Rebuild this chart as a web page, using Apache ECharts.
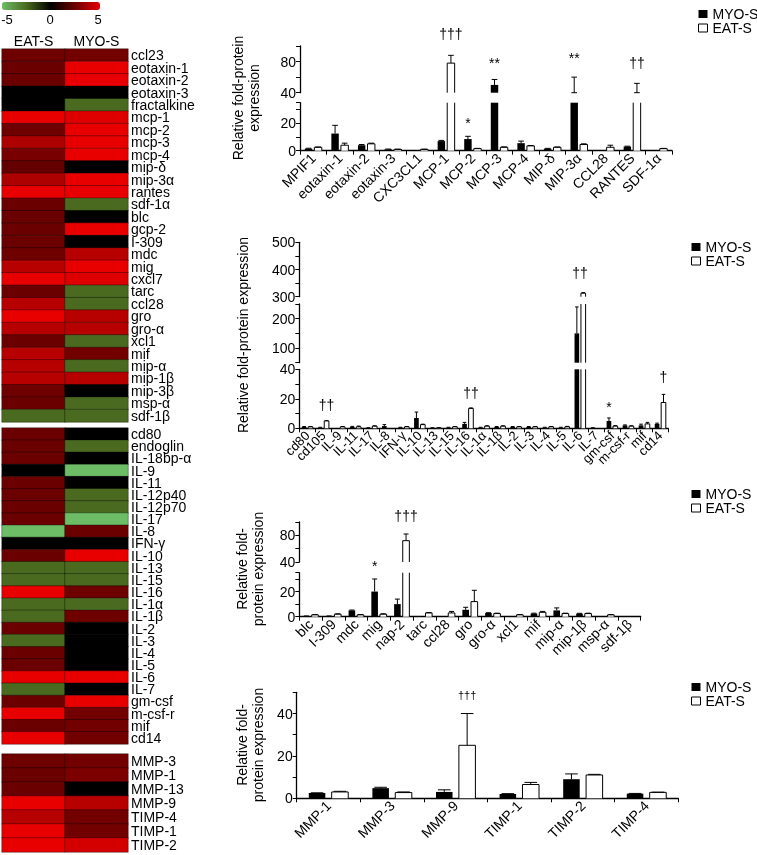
<!DOCTYPE html>
<html>
<head>
<meta charset="utf-8">
<script src="https://cdn.jsdelivr.net/npm/echarts@6/dist/echarts.min.js"></script>
<style>html,body{margin:0;padding:0;background:#fff}#c{width:757px;height:855px;will-change:transform;transform:translateZ(0)}</style>
</head>
<body>
<div id="c"></div>
<script>
// ---------------- DATA ----------------
const heatCols = ['EAT-S', 'MYO-S'];
const rows1 = ['ccl23','eotaxin-1','eotaxin-2','eotaxin-3','fractalkine','mcp-1','mcp-2','mcp-3','mcp-4','mip-δ','mip-3α','rantes','sdf-1α','blc','gcp-2','I-309','mdc','mig','cxcl7','tarc','ccl28','gro','gro-α','xcl1','mif','mip-α','mip-1β','mip-3β','msp-α','sdf-1β'];
const eat1 = [2.5,2.4,2.4,0,0,5,2.5,3.8,2.7,2.3,3.8,5,2.4,2.4,2.4,2.4,2.5,4,5,2.4,4,5,4,2.4,4,4,4,2.5,2.4,-2.5];
const myo1 = [2.6,5,5,0,-2.5,4.8,5,5,5,0,5,5,-2.5,0,5,0,4,5,4.8,-2.5,-2.5,4,4,-2.5,2.6,-2.5,4,0,-2.5,-2.5];
const rows2 = ['cd80','endoglin','IL-18bp-α','IL-9','IL-11','IL-12p40','IL-12p70','IL-17','IL-8','IFN-γ','IL-10','IL-13','IL-15','IL-16','IL-1α','IL-1β','IL-2','IL-3','IL-4','IL-5','IL-6','IL-7','gm-csf','m-csf-r','mif','cd14'];
const eat2 = [2.4,2.4,2.4,0,2.4,2.4,2.4,2.4,-5,0,2.4,-2.5,-2.5,5,-2.5,-2.5,2.4,-2.5,2.4,2.4,5,-2.5,2.4,5,2.4,5];
const myo2 = [0,-2.5,0,-5,0,-2.5,-2.5,-5,2.4,0,5,-2.5,-2.5,2.5,-2.5,2.5,0,0,0,0,5,0,5,2.6,2.6,2.6];
const rows3 = ['MMP-3','MMP-1','MMP-13','MMP-9','TIMP-4','TIMP-1','TIMP-2'];
const eat3 = [2.5,2.4,2.4,5,4,5,5];
const myo3 = [2.6,2.8,0,4,2.6,2.6,4.6];
const colorbarTicks = ['-5', '0', '5'];

const p1Cats = ['MPIF1','eotaxin-1','eotaxin-2','eotaxin-3','CXC3CL1','MCP-1','MCP-2','MCP-3','MCP-4','MIP-δ','MIP-3α','CCL28','RANTES','SDF-1α'];
const p1Myo    = [1.5, 12.5, 4,   1,   0,   7,   8.5,  50, 5.5, 1.5, 40, 0,   3,   0];
const p1MyoErr = [1.8, 18.5, 4.5, 1.2, 0,   7.5, 10.5, 57, 7,   1.7, 60, 0,   3.3, 0];
const p1Eat    = [2.5, 4,    5,   1,   1,   78,  1.5,  2.5, 3.5, 2.5, 4.5, 2.5, 40,  1.5];
const p1EatErr = [2.7, 5.5,  5.5, 1.1, 1.1, 88,  1.7,  2.8, 3.8, 2.7, 5,   4,   52,  1.7];
const p1AnnoCats = [5, 6, 7, 10, 12];
const p1AnnoVals = [115, 20.2, 77.8, 84.2, 78];
const p1AnnoSide = [1, -1, -1, -1, 1];
const p1AnnoSeg  = [1, 0, 1, 1, 1];
const p1AnnoText = ['†††', '*', '**', '**', '††'];

const p2Cats = ['cd80','cd105','IL-9','IL-11','IL-17','IL-8','IFN-γ','IL-10','IL-13','IL-15','IL-16','IL-1α','IL-1β','IL-2','IL-3','IL-4','IL-5','IL-6','IL-7','gm-csf','m-csf-r','mif','cd14'];
const p2Myo    = [1,   0.5, 0,   1,   0.3, 1.5, 0.5, 7,   0.3, 0.5, 3,    0.5, 1,   1,   1,   0.5, 0.5, 150, 0.3, 5,   2,   2,   3];
const p2MyoErr = [1.2, 0.7, 0,   1.3, 0.4, 2.5, 0.7, 11,  0.4, 0.7, 4,    0.7, 1.2, 1.2, 1.2, 0.7, 0.7, 240, 0.4, 7,   2.3, 2.8, 3.5];
const p2Eat    = [1,   5,   1,   1,   1.5, 0,   1,   2.5, 0.3, 1,   13.5, 1.5, 1.5, 1,   1,   1,   1,   313, 0,   1.5, 1.5, 3,   17.5];
const p2EatErr = [1.2, 5.3, 1.2, 1.5, 1.7, 0,   1.2, 2.8, 0.4, 1.2, 13.8, 1.7, 1.7, 1.2, 1.2, 1.2, 1.3, 315, 0,   1.8, 1.7, 4,   23];
const p2AnnoCats = [1, 10, 17, 19, 22];
const p2AnnoVals = [15.8, 23.7, 388, 14.4, 35];
const p2AnnoSide = [1, 1, 0, -1, 1];
const p2AnnoSeg  = [0, 0, 2, 0, 0];
const p2AnnoText = ['††', '††', '††', '*', '†'];

const p3Cats = ['blc','I-309','mdc','mig','nap-2','tarc','ccl28','gro','gro-α','xcl1','mif','mip-α','mip-1β','msp-α','sdf-1β'];
const p3Myo    = [0.5, 0.5, 5,   20,  10, 0,   0,   5.5, 3,   0,   2.5, 5,   2.5, 0,   0];
const p3MyoErr = [0.6, 0.6, 5.3, 30,  14, 0,   0,   7.5, 3.2, 0,   2.8, 7,   2.7, 0,   0];
const p3Eat    = [1.5, 2,   1.5, 2,   72, 3,   3,   12,  2.5, 1.5, 3.5, 2.5, 2.5, 1.5, 0];
const p3EatErr = [1.7, 2.3, 1.7, 2.3, 82, 3.3, 4.2, 21,  2.8, 1.7, 4.2, 2.8, 2.8, 1.7, 0];
const p3AnnoCats = [3, 4];
const p3AnnoVals = [40, 109.4];
const p3AnnoSide = [-1, 1];
const p3AnnoSeg  = [0, 1];
const p3AnnoText = ['*', '†††'];

const p4Cats = ['MMP-1','MMP-3','MMP-9','TIMP-1','TIMP-2','TIMP-4'];
const p4Myo    = [2.5, 4.8, 3,  2,   9,    2.2];
const p4MyoErr = [2.6, 5.2, 4,  2.2, 11.5, 2.3];
const p4Eat    = [3,   2.7, 25, 6.5, 11,   2.8];
const p4EatErr = [3.3, 3,   40, 7.5, 11.3, 2.9];
const p4AnnoCats = [2];
const p4AnnoVals = [48.7];
const p4AnnoSide = [1];
const p4AnnoSeg  = [0];
const p4AnnoText = ['†††'];

const seriesNames = ['MYO-S', 'EAT-S'];
const axisTitle1 = 'Relative fold-protein\nexpression';
const axisTitle2 = 'Relative fold-protein expression';
const axisTitle3 = 'Relative fold-\nprotein expression';
const axisTitle4 = 'Relative fold-\nprotein expression';

// ---------------- CHART ----------------
const FONT = "'Liberation Sans', Arial, Helvetica, sans-serif";
const chart = echarts.init(document.getElementById('c'), null, {renderer: 'svg', width: 757, height: 855});

const grids = [], xAxes = [], yAxes = [], series = [], legends = [], graphics = [];

const heatSections = [
  {rows: rows1, eat: eat1, myo: myo1, top: 49, height: 373, header: true, font: 14},
  {rows: rows2, eat: eat2, myo: myo2, top: 428, height: 316, font: 14},
  {rows: rows3, eat: eat3, myo: myo3, top: 754, height: 98, font: 14}
];
heatSections.forEach(s => {
  const gi = grids.length;
  grids.push({left: 2, top: s.top, width: 126, height: s.height, containLabel: false, outerBoundsMode: 'none'});
  xAxes.push({type: 'category', gridIndex: gi, data: heatCols, position: 'top', show: !!s.header,
    axisLine: {show: false}, axisTick: {show: false}, splitLine: {show: false},
    axisLabel: {show: !!s.header, fontSize: 14, color: '#000', margin: 1, interval: 0, fontFamily: FONT}});
  yAxes.push({type: 'category', gridIndex: gi, data: s.rows, inverse: true, position: 'right',
    axisLine: {show: false}, axisTick: {show: false}, splitLine: {show: false},
    axisLabel: {fontSize: s.font, color: '#000', margin: 3, interval: 0, fontFamily: FONT, lineHeight: 12}});
  const data = [];
  s.rows.forEach((r, i) => { data.push([0, i, s.eat[i]]); data.push([1, i, s.myo[i]]); });
  series.push({type: 'heatmap', xAxisIndex: gi, yAxisIndex: gi, data: data, silent: true,
    itemStyle: {borderColor: 'rgba(0,0,0,0.35)', borderWidth: 1}, emphasis: {disabled: true}});
});

const panels = [
  {cats: p1Cats, myo: p1Myo, myoErr: p1MyoErr, eat: p1Eat, eatErr: p1EatErr,
   left: 300, width: 372, barW: 0.28, off: 0.18, xFont: 14, annoFont: 14,
   segs: [{min: 0, max: 35, top: 102.7, height: 48, interval: 10, labelMod: 20},
          {min: 40, max: 100, top: 46, height: 46.7, interval: 20, labelMod: 40}],
   anno: {cats: p1AnnoCats, vals: p1AnnoVals, side: p1AnnoSide, seg: p1AnnoSeg, texts: p1AnnoText},
   legend: {left: 698, top: 7, gap: 0},
   title: {text: axisTitle1, x: 246, y: 98}},
  {cats: p2Cats, myo: p2Myo, myoErr: p2MyoErr, eat: p2Eat, eatErr: p2EatErr,
   left: 299.3, width: 369, barW: 0.29, off: 0.2, xFont: 13, annoFont: 14,
   segs: [{min: 0, max: 40, top: 369.3, height: 59, interval: 10, labelMod: 20},
          {min: 50, max: 250, top: 304, height: 58.7, interval: 50, labelMod: 100},
          {min: 300, max: 500, top: 242.3, height: 54.4, interval: 50, labelMod: 100}],
   anno: {cats: p2AnnoCats, vals: p2AnnoVals, side: p2AnnoSide, seg: p2AnnoSeg, texts: p2AnnoText},
   legend: {left: 691, top: 240, gap: 0},
   title: {text: axisTitle2, x: 243, y: 335}},
  {cats: p3Cats, myo: p3Myo, myoErr: p3MyoErr, eat: p3Eat, eatErr: p3EatErr,
   left: 299.3, width: 341.4, barW: 0.29, off: 0.19, xFont: 14, annoFont: 14,
   segs: [{min: 0, max: 35, top: 572.7, height: 44, interval: 10, labelMod: 20},
          {min: 40, max: 100, top: 522, height: 40, interval: 20, labelMod: 40}],
   anno: {cats: p3AnnoCats, vals: p3AnnoVals, side: p3AnnoSide, seg: p3AnnoSeg, texts: p3AnnoText},
   legend: {left: 691, top: 487, gap: 0},
   title: {text: axisTitle3, x: 250, y: 569}},
  {cats: p4Cats, myo: p4Myo, myoErr: p4MyoErr, eat: p4Eat, eatErr: p4EatErr,
   left: 296.7, width: 381.6, barW: 0.26, off: 0.18, xFont: 14, annoFont: 11,
   segs: [{min: 0, max: 50, top: 692.3, height: 106, interval: 10, labelMod: 20}],
   anno: {cats: p4AnnoCats, vals: p4AnnoVals, side: p4AnnoSide, seg: p4AnnoSeg, texts: p4AnnoText},
   legend: {left: 691, top: 680, gap: 0},
   title: {text: axisTitle4, x: 250, y: 745}}
];

function barSeries(name, gi, p, sg, off, filled) {
  const vals = filled ? p.myo : p.eat;
  const errs = filled ? p.myoErr : p.eatErr;
  const data = vals.map((v, i) => [i, v, errs[i]]);
  return {
    type: 'custom', name: name, xAxisIndex: gi, yAxisIndex: gi, data: data, silent: true,
    encode: {x: 0, y: 1},
    itemStyle: filled ? {color: '#000'} : {color: '#fff', borderColor: '#000', borderWidth: 1},
    renderItem: function (params, api) {
      const i = api.value(0), v = api.value(1), e = api.value(2);
      const band = api.size([1, 0])[0];
      const base = api.coord([i, sg.min]);
      const cx = base[0] + off * band, w = p.barW * band;
      const l = cx - w / 2, r = cx + w / 2, y0 = base[1];
      const ch = [];
      if (v > sg.min) {
        const clipped = v > sg.max;
        const yt = api.coord([i, Math.min(v, sg.max)])[1];
        if (filled) {
          ch.push({type: 'rect', shape: {x: l, y: yt, width: w, height: y0 - yt}, style: {fill: '#000'}});
        } else {
          ch.push({type: 'rect', shape: {x: l, y: yt, width: w, height: y0 - yt}, style: {fill: '#fff'}});
          if (clipped) {
            ch.push({type: 'line', shape: {x1: l, y1: y0, x2: l, y2: yt}, style: {stroke: '#000', lineWidth: 1}});
            ch.push({type: 'line', shape: {x1: r, y1: y0, x2: r, y2: yt}, style: {stroke: '#000', lineWidth: 1}});
          } else {
            ch.push({type: 'polyline', shape: {points: [[l, y0], [l, yt], [r, yt], [r, y0]]},
              style: {stroke: '#000', fill: 'none', lineWidth: 1}});
          }
        }
      }
      if (e > v) {
        const lo = Math.max(v, sg.min), hi = Math.min(e, sg.max);
        if (hi > lo) {
          const yl = api.coord([i, lo])[1], yh = api.coord([i, hi])[1];
          const cw = w * 0.38;
          ch.push({type: 'line', shape: {x1: cx, y1: yl, x2: cx, y2: yh}, style: {stroke: '#000', lineWidth: 1}});
          if (e <= sg.max) ch.push({type: 'line', shape: {x1: cx - cw, y1: yh, x2: cx + cw, y2: yh}, style: {stroke: '#000', lineWidth: 1}});
          if (v <= sg.min) ch.push({type: 'line', shape: {x1: cx - cw, y1: yl, x2: cx + cw, y2: yl}, style: {stroke: '#000', lineWidth: 1}});
        }
      }
      return {type: 'group', children: ch};
    }
  };
}

function annoSeries(gi, p, segIdx) {
  const data = [];
  p.anno.cats.forEach((c, k) => {
    if (p.anno.seg[k] === segIdx) data.push([c, p.anno.vals[k], p.anno.side[k], k]);
  });
  return {
    type: 'custom', xAxisIndex: gi, yAxisIndex: gi, data: data, silent: true, z: 5,
    encode: {x: 0, y: 1},
    itemStyle: {color: '#000'},
    renderItem: function (params, api) {
      const pt = api.coord([api.value(0), api.value(1)]);
      const band = api.size([1, 0])[0];
      const k = api.value(3);
      return {type: 'text', x: pt[0] + api.value(2) * p.off * band, y: pt[1],
        style: {text: p.anno.texts[k], fill: '#000', font: p.annoFont + 'px ' + FONT,
          align: 'center', verticalAlign: 'middle', textAlign: 'center', textVerticalAlign: 'middle'}};
    }
  };
}

panels.forEach(p => {
  p.segs.forEach((sg, si) => {
    const gi = grids.length;
    const bottom = si === 0;
    grids.push({left: p.left, top: sg.top, width: p.width, height: sg.height, containLabel: false, outerBoundsMode: 'none'});
    xAxes.push({type: 'category', gridIndex: gi, data: p.cats, show: bottom, boundaryGap: true,
      axisLine: {show: bottom, lineStyle: {color: '#000', width: 1.3}},
      axisTick: {show: bottom, length: 4, lineStyle: {color: '#000', width: 1}},
      axisLabel: {show: bottom, rotate: 45, interval: 0, fontSize: p.xFont, color: '#000', margin: 5, fontFamily: FONT},
      splitLine: {show: false}});
    yAxes.push({type: 'value', gridIndex: gi, min: sg.min, max: sg.max, interval: sg.interval,
      axisLine: {show: true, lineStyle: {color: '#000', width: 1.3}},
      axisTick: {show: true, length: 4, lineStyle: {color: '#000', width: 1}},
      axisLabel: {fontSize: 14, color: '#000', margin: 4, fontFamily: FONT, showMaxLabel: true,
        formatter: function (v) { return Math.abs(v % sg.labelMod) < 1e-6 ? String(v) : ''; }},
      splitLine: {show: false}});
    series.push(barSeries(seriesNames[0], gi, p, sg, -p.off, true));
    series.push(barSeries(seriesNames[1], gi, p, sg, p.off, false));
    series.push(annoSeries(gi, p, si));
  });
  legends.push({left: p.legend.left, top: p.legend.top, orient: 'vertical', itemWidth: 9, itemHeight: 8,
    itemGap: p.legend.gap, padding: 0, selectedMode: false, icon: 'rect',
    textStyle: {fontSize: 14, color: '#000', lineHeight: 14, fontFamily: FONT},
    data: [{name: seriesNames[0], itemStyle: {color: '#000'}},
           {name: seriesNames[1], itemStyle: {color: '#fff', borderColor: '#000', borderWidth: 1}}]});
  graphics.push({type: 'text', x: p.title.x, y: p.title.y, rotation: Math.PI / 2, silent: true,
    style: {text: p.title.text, fill: '#000', font: '14px ' + FONT, lineHeight: 16,
      align: 'center', verticalAlign: 'middle', textAlign: 'center', textVerticalAlign: 'middle'}});
});

[7, 50, 98].forEach((x, k) => {
  graphics.push({type: 'text', x: x, y: 19, silent: true,
    style: {text: colorbarTicks[k], fill: '#000', font: '13px ' + FONT,
      align: 'center', verticalAlign: 'middle', textAlign: 'center', textVerticalAlign: 'middle'}});
});

chart.setOption({
  animation: false,
  textStyle: {fontFamily: FONT, color: '#000'},
  grid: grids,
  xAxis: xAxes,
  yAxis: yAxes,
  legend: legends,
  visualMap: {type: 'continuous', min: -5, max: 5, dimension: 2, seriesIndex: [0, 1, 2],
    orient: 'horizontal', left: 2, top: 2, itemWidth: 8, itemHeight: 98, padding: 0,
    calculable: false, hoverLink: false, realtime: false,
    inRange: {color: ['#6cbd66', '#4a6a20', '#000000', '#6e0000', '#e80000']}},
  graphic: graphics,
  series: series
});
</script>
</body>
</html>
